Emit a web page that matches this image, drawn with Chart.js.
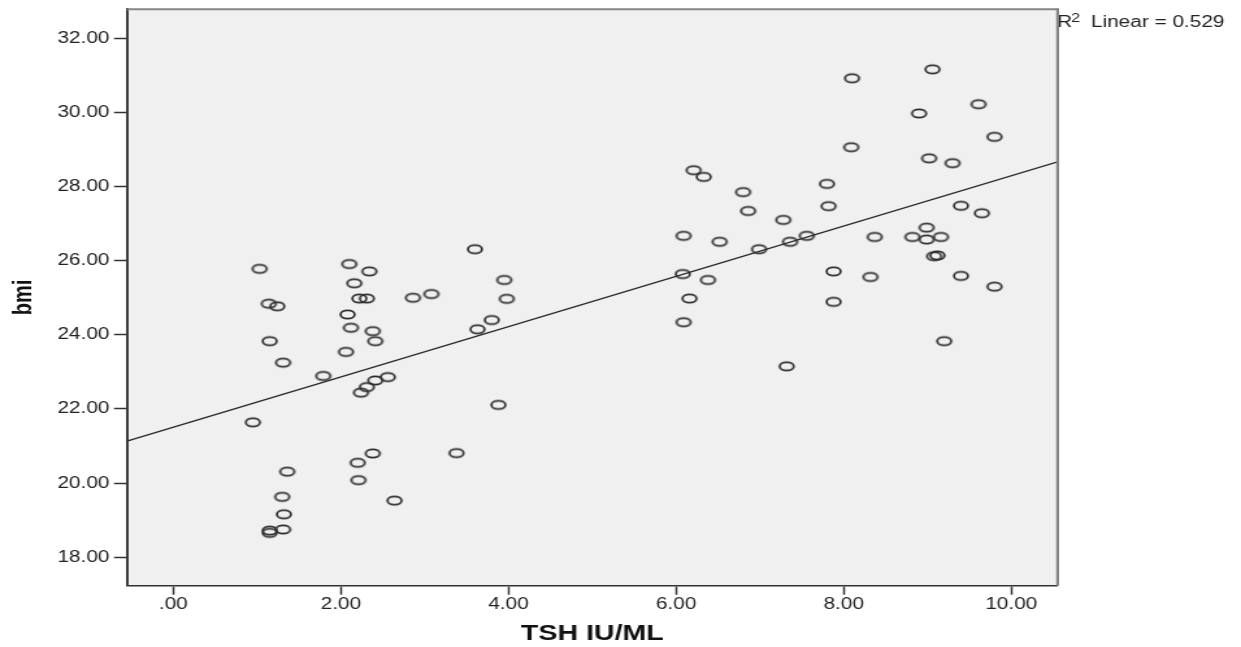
<!DOCTYPE html>
<html>
<head>
<meta charset="utf-8">
<script src="https://cdn.jsdelivr.net/npm/chart.js@4.4.1/dist/chart.umd.min.js"></script>
<style>
  html, body { margin: 0; padding: 0; background: #ffffff; overflow: hidden; }
  /* the chart is drawn on a narrower canvas and widened, like the SPSS export */
  #wrap { width: 955px; height: 647px; transform: scale(1.2995, 1); transform-origin: 0 0; }
  canvas { display: block; }
</style>
</head>
<body>
<div id="wrap"><canvas id="c" width="955" height="647"></canvas></div>
<script>
// TSH (IU/ML) and BMI for each subject
const tsh = [
  1.03, 1.14, 1.24, 2.10, 2.34, 2.16, 2.22, 2.31, 2.86, 3.08, 2.08, 2.12, 2.38, 2.41, 1.15, 2.06, 1.31,
  1.79, 2.56, 2.41, 2.31, 2.24, 0.95, 1.36, 1.30, 1.32, 1.31, 1.15, 1.15, 2.38, 2.20, 2.21, 2.64,
  3.60, 3.95, 3.98, 3.80, 3.63, 3.88, 3.38,
  6.21, 6.33, 6.80, 6.86, 7.80, 7.82, 7.28, 8.09, 6.09, 6.52, 6.99, 7.36, 7.56, 8.37, 6.08, 6.38,
  6.16, 6.09, 7.88, 8.32, 7.88, 7.32,
  8.10, 9.06, 9.61, 8.90, 9.80, 9.02, 9.30, 9.40, 9.65, 8.99, 8.82, 8.99, 9.16, 9.08, 9.12, 9.40,
  9.80, 9.20
];
const bmi = [
  25.78, 24.84, 24.77, 25.91, 25.71, 25.39, 24.98, 24.98, 25.00, 25.10, 24.55, 24.19, 24.10, 23.83, 23.83, 23.54, 23.25,
  22.89, 22.86, 22.77, 22.59, 22.44, 21.64, 20.31, 19.63, 19.16, 18.75, 18.72, 18.66, 20.80, 20.55, 20.08, 19.53,
  26.31, 25.48, 24.97, 24.40, 24.15, 22.11, 20.81,
  28.44, 28.26, 27.85, 27.34, 28.07, 27.47, 27.10, 29.06, 26.67, 26.51, 26.31, 26.51, 26.67, 26.64, 25.64, 25.48,
  24.98, 24.34, 25.71, 25.56, 24.89, 23.15,
  30.92, 31.16, 30.22, 29.97, 29.34, 28.76, 28.63, 27.48, 27.28, 26.89, 26.64, 26.57, 26.64, 26.12, 26.14, 25.59,
  25.30, 23.83
];

// axis ticks
const xTickValues = [0, 2, 4, 6, 8, 10];
const xTickLabels = ['.00', '2.00', '4.00', '6.00', '8.00', '10.00'];
const yTickValues = [18, 20, 22, 24, 26, 28, 30, 32];
const yTickLabels = ['18.00', '20.00', '22.00', '24.00', '26.00', '28.00', '30.00', '32.00'];
const xRange = [-0.553, 10.554];
const yRange = [17.234, 32.78];
const rSquaredText = '0.529';

const FONT = "'Liberation Sans', Arial, Helvetica, sans-serif";

// least-squares line through the points
function linearFit(xs, ys) {
  const n = xs.length;
  let sx = 0, sy = 0, sxx = 0, sxy = 0;
  for (let i = 0; i < n; i++) { sx += xs[i]; sy += ys[i]; sxx += xs[i] * xs[i]; sxy += xs[i] * ys[i]; }
  const slope = (n * sxy - sx * sy) / (n * sxx - sx * sx);
  const intercept = (sy - slope * sx) / n;
  return { slope, intercept };
}
const fit = linearFit(tsh, bmi);
const fitPoints = xRange.map(x => ({ x, y: fit.intercept + fit.slope * x }));

// open ellipse marker
function makeMarker() {
  const c = document.createElement('canvas');
  c.width = 15; c.height = 13;
  const g = c.getContext('2d');
  g.strokeStyle = '#2e2e2e';
  g.lineWidth = 1.75;
  g.beginPath();
  g.ellipse(7.5, 6.5, 5.4, 4.2, 0, 0, Math.PI * 2);
  g.stroke();
  return c;
}
const marker = makeMarker();

const plotFrame = {
  id: 'plotFrame',
  beforeDraw(chart) {
    const { ctx, chartArea: a } = chart;
    ctx.save();
    ctx.fillStyle = '#f0f0f0';
    ctx.fillRect(a.left, a.top, a.right - a.left, a.bottom - a.top);
    ctx.restore();
  },
  afterDraw(chart) {
    const { ctx, chartArea: a } = chart;
    ctx.save();
    // fit statistic label
    ctx.fillStyle = '#222222';
    ctx.textBaseline = 'alphabetic';
    ctx.textAlign = 'left';
    ctx.font = '16px ' + FONT;
    ctx.fillText('R', a.right - 0.5, a.top + 18);
    ctx.font = '12.5px ' + FONT;
    ctx.fillText('2', a.right + 10.3, a.top + 12.3);
    ctx.font = '16px ' + FONT;
    ctx.fillText('Linear = ' + rSquaredText, a.right + 25.6, a.top + 18);
    // top and right edges of the plot frame
    ctx.strokeStyle = '#858585';
    ctx.lineWidth = 2;
    ctx.beginPath();
    ctx.moveTo(a.left, a.top);
    ctx.lineTo(a.right, a.top);
    ctx.stroke();
    ctx.lineWidth = 2.2;
    ctx.beginPath();
    ctx.moveTo(a.right, a.top - 1);
    ctx.lineTo(a.right, a.bottom);
    ctx.stroke();
    ctx.restore();
  }
};

new Chart(document.getElementById('c'), {
  type: 'scatter',
  data: {
    datasets: [
      {
        label: 'Fit line',
        type: 'line',
        data: fitPoints,
        borderColor: '#2a2a2a',
        borderWidth: 1.4,
        pointRadius: 0,
        fill: false,
        tension: 0,
        order: 2
      },
      {
        label: 'bmi',
        data: tsh.map((x, i) => ({ x, y: bmi[i] })),
        pointStyle: marker,
        pointRadius: 5,
        order: 1
      }
    ]
  },
  options: {
    responsive: false,
    animation: false,
    events: [],
    layout: { padding: { left: 0, top: 9.3, right: 141.1, bottom: 0 } },
    plugins: { legend: { display: false }, tooltip: { enabled: false } },
    scales: {
      x: {
        type: 'linear',
        min: xRange[0],
        max: xRange[1],
        afterBuildTicks: s => { s.ticks = xTickValues.map(v => ({ value: v })); },
        afterFit: s => { s.height = 61.3; s.paddingLeft = 0; s.paddingRight = 0; },
        grid: { drawOnChartArea: false, drawTicks: true, tickLength: 9, tickWidth: 1.5, tickColor: '#333333' },
        border: { display: true, color: '#333333', width: 1.6 },
        ticks: {
          font: { family: FONT, size: 16 },
          color: '#222222',
          padding: 0,
          maxRotation: 0,
          autoSkip: false,
          callback: (v, i) => xTickLabels[i]
        },
        title: {
          display: true,
          text: 'TSH IU/ML',
          font: { family: FONT, size: 22, weight: 'bold' },
          color: '#111111',
          padding: { top: 0, bottom: 0 }
        }
      },
      y: {
        type: 'linear',
        min: yRange[0],
        max: yRange[1],
        afterBuildTicks: s => { s.ticks = yTickValues.map(v => ({ value: v })); },
        afterFit: s => { s.width = 97.7; s.paddingTop = 0; s.paddingBottom = 0; },
        grid: { drawOnChartArea: false, drawTicks: true, tickLength: 10, tickWidth: 1.5, tickColor: '#333333' },
        border: { display: true, color: '#3a3a3a', width: 2 },
        ticks: {
          font: { family: FONT, size: 16 },
          color: '#222222',
          padding: 3.5,
          autoSkip: false,
          callback: (v, i) => yTickLabels[i]
        },
        title: {
          display: true,
          text: 'bmi',
          font: { family: FONT, size: 20, weight: 'bold' },
          color: '#111111',
          padding: { top: 6, bottom: 0 }
        }
      }
    }
  },
  plugins: [plotFrame]
});
</script>
</body>
</html>
